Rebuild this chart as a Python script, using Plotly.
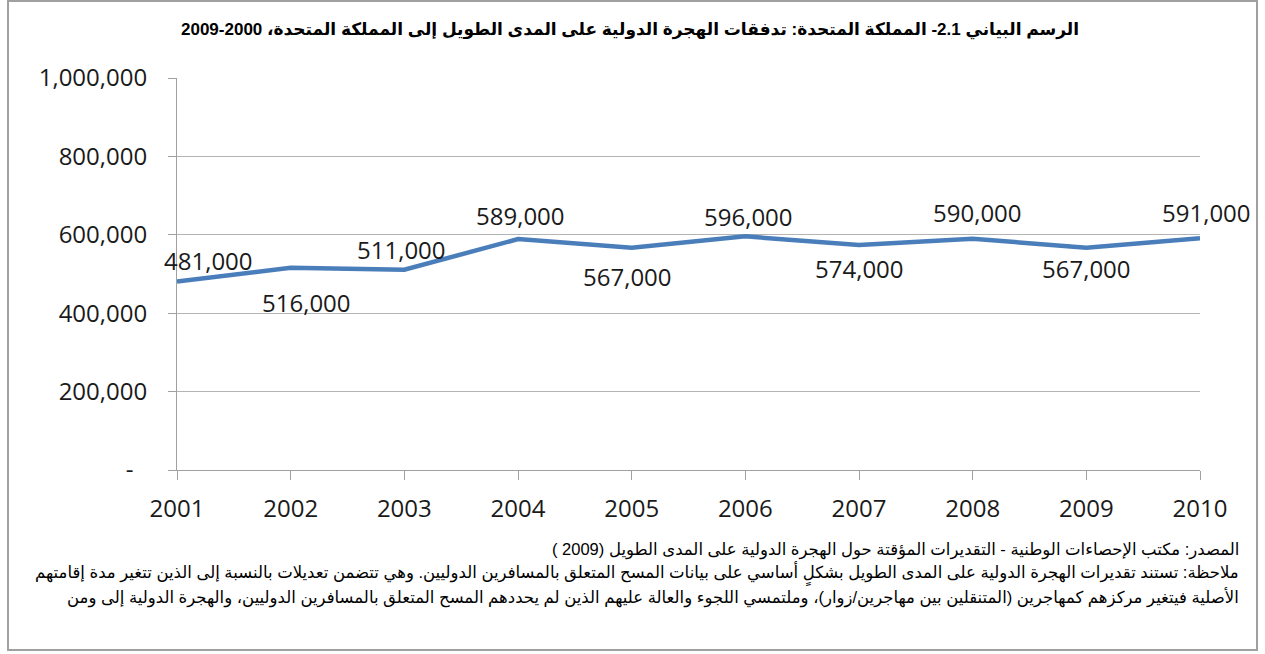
import plotly.graph_objects as go

years = [2001, 2002, 2003, 2004, 2005, 2006, 2007, 2008, 2009, 2010]
flows = [481000, 516000, 511000, 589000, 567000, 596000, 574000, 590000, 567000, 591000]
label_texts = ["481,000", "516,000", "511,000", "589,000", "567,000",
               "596,000", "574,000", "590,000", "567,000", "591,000"]
y_tick_vals = [0, 200000, 400000, 600000, 800000, 1000000]
y_tick_text = ["-\u2007", "200,000", "400,000", "600,000", "800,000", "1,000,000"]

title_text = "الرسم البياني 2.1- المملكة المتحدة: تدفقات الهجرة الدولية على المدى الطويل إلى المملكة المتحدة، 2000-2009"
note_lines = [
    "المصدر: مكتب الإحصاءات الوطنية - التقديرات المؤقتة حول الهجرة الدولية على المدى الطويل (2009 )\u200f",
    "ملاحظة: تستند تقديرات الهجرة الدولية على المدى الطويل بشكلٍ أساسي على بيانات المسح المتعلق بالمسافرين الدوليين. وهي تتضمن تعديلات بالنسبة إلى الذين تتغير مدة إقامتهم",
    "الأصلية فيتغير مركزهم كمهاجرين (المتنقلين بين مهاجرين/زوار)، وملتمسي اللجوء والعالة عليهم الذين لم يحددهم المسح المتعلق بالمسافرين الدوليين، والهجرة الدولية إلى ومن",
]

# label offsets in pixels (style)
label_dx = [31, 16, -3, 2, -4, 3, 0, 5, 0, 6]
label_dy = [21, -35, 20, 24, -29, 20, -24, 26, -21, 26]

W, H = 1265, 654
L, R, T, B = 177, 65, 78, 184
pw, ph = W - L - R, H - T - B

def px(x):
    return (x - L) / pw

def py(y):
    return (H - B - y) / ph

fig = go.Figure()
fig.add_trace(go.Scatter(
    x=years, y=flows, mode="lines",
    line=dict(color="#4a7ebb", width=4.5),
    hoverinfo="x+y", showlegend=False,
))

tick_font = dict(family="Open Sans, sans-serif", size=24, color="#1a1a1a")
annotations = []
for x, y, t, dx, dy in zip(years, flows, label_texts, label_dx, label_dy):
    annotations.append(dict(x=x, y=y, xref="x", yref="y", text=t, showarrow=False,
                            xshift=dx, yshift=dy, font=tick_font,
                            xanchor="center", yanchor="middle"))

annotations.append(dict(x=px(630), y=py(30), xref="paper", yref="paper", text="<b>" + title_text + "</b>",
                        showarrow=False, xanchor="center", yanchor="middle",
                        font=dict(family="Arial, DejaVu Sans, sans-serif", size=17, color="#000000")))
for i, line in enumerate(note_lines):
    annotations.append(dict(x=px(1241), y=py(550 + i * 23.5), xref="paper", yref="paper", text=line,
                            showarrow=False, xanchor="right", yanchor="middle",
                            font=dict(family="Arial, DejaVu Sans, sans-serif", size=16.5, color="#000000")))

fig.update_layout(
    width=W, height=H,
    margin=dict(l=L, r=R, t=T, b=B, pad=0),
    paper_bgcolor="white", plot_bgcolor="white",
    annotations=annotations,
    shapes=[dict(type="rect", xref="paper", yref="paper",
                 x0=px(8), x1=px(1257), y0=py(650), y1=py(1),
                 line=dict(color="#a0a0a0", width=2), fillcolor="rgba(0,0,0,0)", layer="below")],
    xaxis=dict(range=[2001, 2010], tickvals=years, ticktext=[str(y) for y in years],
               showgrid=False, zeroline=False, showline=True, linecolor="#a0a0a0", linewidth=1,
               ticks="outside", ticklen=9, tickcolor="#a0a0a0", tickfont=tick_font,
               ticklabelstandoff=8, fixedrange=True),
    yaxis=dict(range=[0, 1000000], tickvals=y_tick_vals, ticktext=y_tick_text,
               showgrid=True, gridcolor="#b4b4b4", gridwidth=1, zeroline=False,
               showline=True, linecolor="#a0a0a0", linewidth=1,
               ticks="outside", ticklen=8, tickcolor="#a0a0a0", tickfont=tick_font,
               ticklabelstandoff=16, fixedrange=True),
)

fig.write_html("out.html")
